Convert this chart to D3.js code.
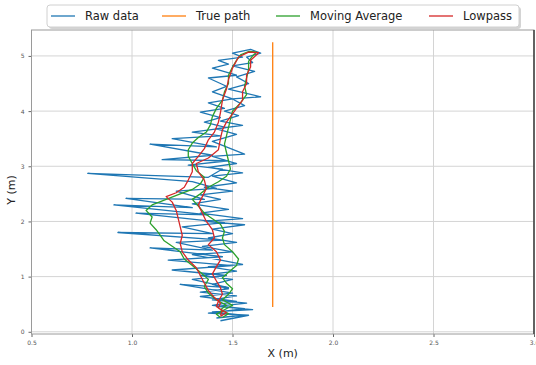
<!DOCTYPE html>
<html>
<head>
<meta charset="utf-8">
<script src="https://cdn.jsdelivr.net/npm/d3@7"></script>
<style>
  html, body { margin: 0; padding: 0; background: #fff; }
  svg { display: block; font-family: "DejaVu Sans", sans-serif; }
</style>
</head>
<body>
<svg id="chart" width="536" height="365"></svg>
<script>
// Walk measurements: outbound and return legs, positions in metres.
const rawData = [
  [1.44,0.20],[1.58,0.30],[1.38,0.34],[1.56,0.42],[1.40,0.48],[1.52,0.55],[1.34,0.64],[1.50,0.70],
  [1.24,0.86],[1.48,0.80],[1.30,0.95],[1.47,1.02],[1.20,1.12],[1.50,1.20],[1.18,1.30],[1.45,1.36],
  [1.09,1.52],[1.40,1.48],[1.22,1.62],[1.45,1.66],[0.93,1.80],[1.40,1.78],[1.25,1.90],[1.46,1.98],
  [1.02,2.15],[1.38,2.12],[0.91,2.30],[1.30,2.25],[0.97,2.42],[1.36,2.40],[1.22,2.55],[1.42,2.60],
  [1.30,2.72],[0.78,2.87],[1.38,2.80],[1.45,2.95],[1.28,3.02],[1.48,3.10],[1.15,3.12],[1.40,3.20],
  [1.09,3.40],[1.42,3.35],[1.20,3.50],[1.44,3.55],[1.30,3.62],[1.47,3.70],[1.36,3.80],[1.44,3.88],
  [1.34,3.98],[1.46,4.05],[1.38,4.15],[1.50,4.22],[1.40,4.35],[1.47,4.45],[1.38,4.60],[1.52,4.65],
  [1.40,4.78],[1.48,4.85],[1.43,4.92],[1.55,4.98],[1.50,5.05],[1.59,5.12],[1.64,5.05],
  [1.57,4.98],[1.60,4.88],[1.50,4.82],[1.61,4.72],[1.52,4.62],[1.58,4.50],[1.48,4.40],[1.64,4.26],
  [1.50,4.22],[1.56,4.10],[1.46,4.00],[1.53,3.92],[1.44,3.82],[1.55,3.74],[1.42,3.68],[1.52,3.58],
  [1.40,3.45],[1.56,3.22],[1.40,3.18],[1.52,3.05],[1.38,2.98],[1.55,2.88],[1.40,2.82],[1.52,2.70],
  [1.36,2.62],[1.50,2.55],[1.34,2.48],[1.44,2.40],[1.30,2.32],[1.48,2.22],[1.34,2.15],[1.55,2.05],
  [1.36,2.00],[1.56,1.94],[1.40,1.86],[1.50,1.78],[1.38,1.70],[1.52,1.62],[1.35,1.55],[1.50,1.45],
  [1.30,1.40],[1.55,1.22],[1.38,1.18],[1.52,1.10],[1.34,1.02],[1.50,0.95],[1.40,0.86],[1.48,0.78],
  [1.34,0.72],[1.52,0.65],[1.40,0.58],[1.57,0.52],[1.42,0.46],[1.60,0.40],[1.40,0.36],[1.55,0.30],
  [1.42,0.25]
];

const truePath = [[1.7,0.45],[1.7,5.25]];

const movingAverage = [
  [1.45,0.26],[1.48,0.33],[1.44,0.40],[1.47,0.48],[1.42,0.58],[1.38,0.70],[1.36,0.82],[1.38,0.95],
  [1.34,1.08],[1.30,1.20],[1.26,1.32],[1.24,1.45],[1.20,1.55],[1.16,1.65],[1.14,1.75],[1.12,1.85],
  [1.09,1.97],[1.10,2.08],[1.07,2.20],[1.10,2.30],[1.17,2.40],[1.24,2.50],[1.30,2.58],[1.34,2.68],
  [1.36,2.80],[1.32,2.92],[1.30,3.05],[1.28,3.18],[1.28,3.30],[1.30,3.42],[1.33,3.52],[1.37,3.62],
  [1.39,3.75],[1.40,3.90],[1.42,4.05],[1.45,4.20],[1.46,4.35],[1.48,4.50],[1.48,4.65],[1.50,4.80],
  [1.52,4.92],[1.54,5.02],[1.58,5.08],[1.62,5.07],
  [1.60,5.00],[1.58,4.90],[1.58,4.75],[1.57,4.60],[1.56,4.45],[1.57,4.30],[1.54,4.15],[1.50,4.00],
  [1.49,3.85],[1.48,3.70],[1.47,3.55],[1.46,3.40],[1.47,3.25],[1.48,3.10],[1.49,2.95],[1.47,2.82],
  [1.43,2.72],[1.38,2.62],[1.34,2.50],[1.30,2.40],[1.33,2.28],[1.36,2.15],[1.40,2.05],[1.44,1.95],
  [1.46,1.82],[1.45,1.70],[1.46,1.58],[1.50,1.45],[1.53,1.32],[1.52,1.20],[1.48,1.08],[1.45,0.98],
  [1.47,0.88],[1.50,0.78],[1.48,0.68],[1.45,0.58],[1.50,0.48],[1.46,0.40],[1.42,0.32],[1.44,0.26]
];

const lowpass = [
  [1.44,0.28],[1.47,0.35],[1.43,0.43],[1.44,0.52],[1.41,0.62],[1.38,0.75],[1.36,0.88],[1.34,1.02],
  [1.32,1.16],[1.28,1.30],[1.25,1.45],[1.24,1.60],[1.25,1.75],[1.24,1.90],[1.23,2.05],[1.22,2.20],
  [1.20,2.35],[1.17,2.45],[1.22,2.52],[1.26,2.62],[1.28,2.75],[1.30,2.90],[1.30,3.05],[1.33,3.18],
  [1.36,3.32],[1.38,3.48],[1.41,3.62],[1.43,3.80],[1.44,3.97],[1.45,4.20],[1.47,4.40],[1.48,4.57],
  [1.50,4.78],[1.53,4.98],[1.58,5.07],[1.63,5.06],
  [1.62,5.02],[1.59,4.92],[1.59,4.80],[1.57,4.65],[1.57,4.50],[1.55,4.35],[1.55,4.20],[1.52,4.05],
  [1.50,3.95],[1.47,3.80],[1.45,3.66],[1.44,3.50],[1.43,3.30],[1.38,3.15],[1.32,3.05],[1.33,2.90],
  [1.36,2.75],[1.37,2.60],[1.35,2.45],[1.33,2.30],[1.35,2.15],[1.37,2.00],[1.40,1.85],[1.41,1.70],
  [1.38,1.58],[1.42,1.45],[1.44,1.30],[1.42,1.18],[1.40,1.05],[1.42,0.92],[1.44,0.80],[1.45,0.68],
  [1.43,0.56],[1.42,0.46],[1.45,0.38],[1.44,0.30]
];

const xTicks = [0.5, 1.0, 1.5, 2.0, 2.5, 3.0];
const yTicks = [0, 1, 2, 3, 4, 5];
const seriesNames = ["Raw data", "True path", "Moving Average", "Lowpass"];
const seriesColors = ["#1f77b4", "#ff7f0e", "#2ca02c", "#d62728"];

const svg = d3.select("#chart");
const plotLeft = 31.5, plotRight = 534, plotTop = 30, plotBottom = 334;

const x = d3.scaleLinear().domain([0.5, 3.0]).range([plotLeft, plotRight]);
const y = d3.scaleLinear().domain([-0.04, 5.47]).range([plotBottom, plotTop]);

// grid
const grid = svg.append("g");
grid.selectAll("line.vx").data(xTicks).join("line")
  .attr("x1", d => x(d)).attr("x2", d => x(d)).attr("y1", plotTop).attr("y2", plotBottom)
  .attr("stroke", "#d4d4d4").attr("stroke-width", 1);
grid.selectAll("line.hy").data(yTicks).join("line")
  .attr("x1", plotLeft).attr("x2", plotRight).attr("y1", d => y(d)).attr("y2", d => y(d))
  .attr("stroke", "#d4d4d4").attr("stroke-width", 1);

// axes
const xAxis = svg.append("g").attr("transform", `translate(0,${plotBottom})`)
  .call(d3.axisBottom(x).tickValues(xTicks).tickFormat(d3.format(".1f")).tickSize(3).tickPadding(4));
const yAxis = svg.append("g").attr("transform", `translate(${plotLeft},0)`)
  .call(d3.axisLeft(y).tickValues(yTicks).tickFormat(d3.format("d")).tickSize(3).tickPadding(4));
[xAxis, yAxis].forEach(a => {
  a.select(".domain").remove();
  a.selectAll(".tick line").attr("stroke", "#666");
  a.selectAll(".tick text").attr("fill", "#555").style("font-size", "6px")
    .style("font-family", "DejaVu Sans, sans-serif");
});

// series
const line = d3.line().x(d => x(d[0])).y(d => y(d[1]));
const series = [rawData, truePath, movingAverage, lowpass];
svg.append("g").selectAll("path").data(series).join("path")
  .attr("d", line)
  .attr("fill", "none")
  .attr("stroke", (d, i) => seriesColors[i])
  .attr("stroke-width", 1.3)
  .attr("stroke-linejoin", "round");

// frame
svg.append("rect").attr("x", plotLeft).attr("y", plotTop)
  .attr("width", plotRight - plotLeft).attr("height", plotBottom - plotTop)
  .attr("fill", "none").attr("stroke", "#9a9a9a").attr("stroke-width", 1);
svg.append("line").attr("x1", plotRight).attr("x2", plotRight).attr("y1", plotTop).attr("y2", plotBottom)
  .attr("stroke", "#222").attr("stroke-width", 1.2);

// axis titles
svg.append("text").attr("x", (plotLeft + plotRight) / 2).attr("y", 357)
  .attr("text-anchor", "middle").style("font-size", "11px").attr("fill", "#222")
  .text("X (m)");
svg.append("text").attr("transform", "translate(15,190) rotate(-90)")
  .attr("text-anchor", "middle").style("font-size", "11px").attr("fill", "#222")
  .text("Y (m)");

// legend
const lg = svg.append("g");
lg.append("rect").attr("x", 49).attr("y", 7).attr("width", 472).attr("height", 22)
  .attr("rx", 3).attr("fill", "#b8b8b8").attr("opacity", 0.6);
lg.append("rect").attr("x", 47).attr("y", 5).attr("width", 472).attr("height", 22)
  .attr("rx", 3).attr("fill", "#fff").attr("stroke", "#d0d0d0");
const legendX = [51, 162, 276, 429];
const items = lg.selectAll("g.item").data(seriesNames).join("g")
  .attr("transform", (d, i) => `translate(${legendX[i]},16)`);
items.append("line").attr("x1", 0).attr("x2", 24).attr("y1", 0).attr("y2", 0)
  .attr("stroke", (d, i) => seriesColors[i]).attr("stroke-width", 1.3);
items.append("text").attr("x", 34).attr("y", 4)
  .style("font-size", "11.5px").attr("fill", "#222").text(d => d);
</script>
</body>
</html>
